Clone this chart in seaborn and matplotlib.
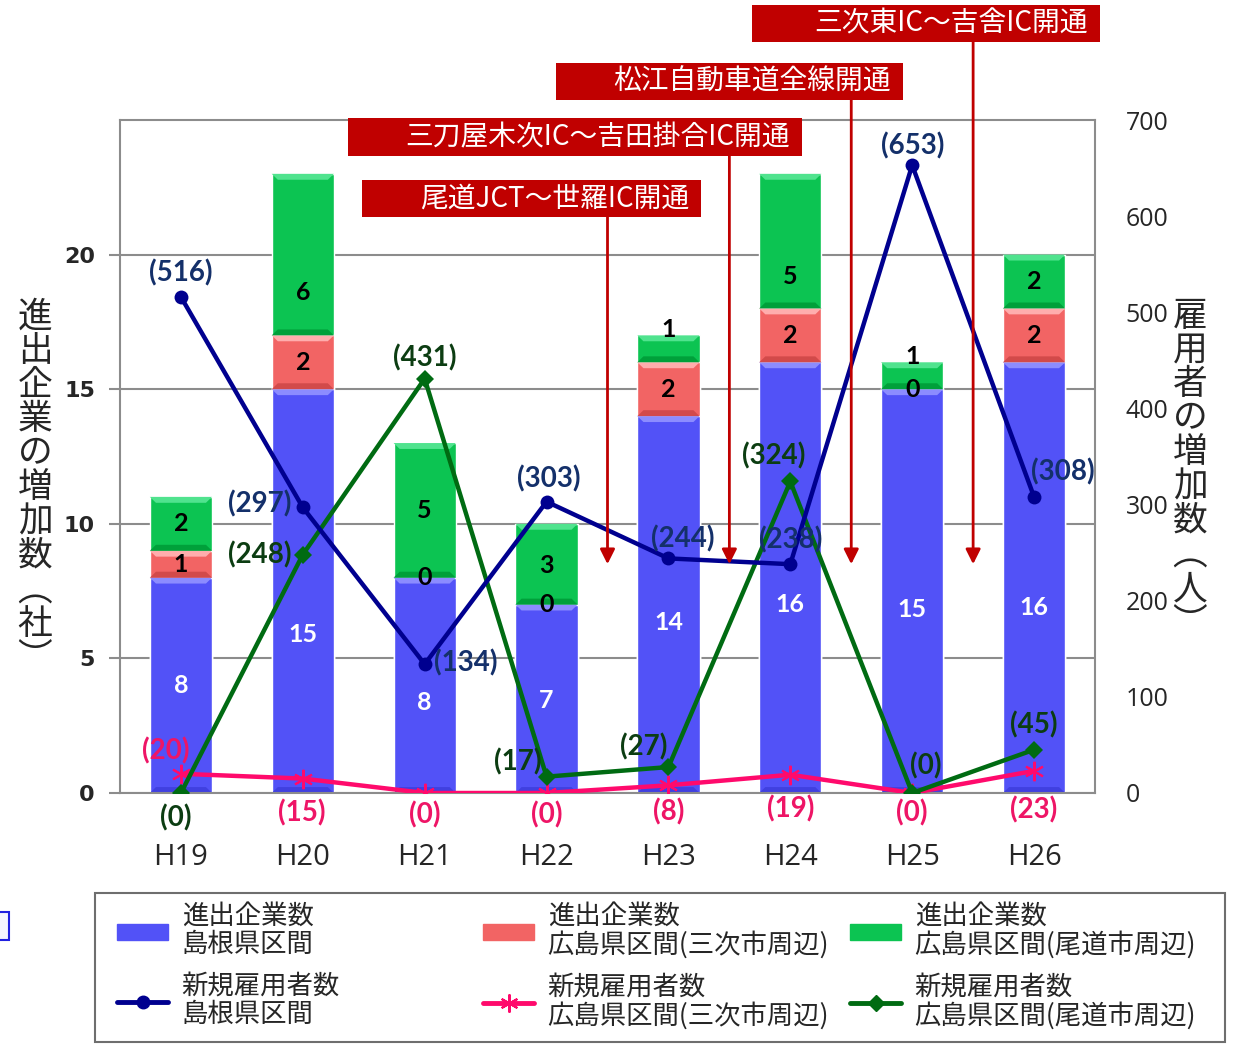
import numpy as np
import matplotlib.pyplot as plt
from matplotlib.patches import Rectangle, Patch, Polygon
from matplotlib.lines import Line2D
import seaborn as sns

# ---- data ----
years = ['H19', 'H20', 'H21', 'H22', 'H23', 'H24', 'H25', 'H26']
firms_shimane = [8, 15, 8, 7, 14, 16, 15, 16]
firms_miyoshi = [1, 2, 0, 0, 2, 2, 0, 2]
firms_onomichi = [2, 6, 5, 3, 1, 5, 1, 2]
jobs_shimane = [516, 297, 134, 303, 244, 238, 653, 308]
jobs_miyoshi = [20, 15, 0, 0, 8, 19, 0, 23]
jobs_onomichi = [0, 248, 431, 17, 27, 324, 0, 45]

openings = ['尾道JCT～世羅IC開通', '三刀屋木次IC～吉田掛合IC開通',
            '松江自動車道全線開通', '三次東IC～吉舎IC開通']
opened_after = ['H22', 'H23', 'H24', 'H25']

legend_bar_labels = ['進出企業数\n島根県区間', '進出企業数\n広島県区間(三次市周辺)',
                     '進出企業数\n広島県区間(尾道市周辺)']
legend_line_labels = ['新規雇用者数\n島根県区間', '新規雇用者数\n広島県区間(三次市周辺)',
                      '新規雇用者数\n広島県区間(尾道市周辺)']

# ---- styling ----
W, H = 1241, 1044
BLUE, RED, GREEN = '#5252f7', '#f26464', '#0cc452'
NAVY, PINK, DGREEN = '#00008f', '#ff0a6c', '#006b12'
NAVY_T, PINK_T, GREEN_T = '#14306a', '#ee1566', '#0c3d12'
GRAY = '#8c8c8c'
NUM = ['Lato', 'DejaVu Sans']
BAR_W = 0.51

sns.set_theme(style='white')
plt.rcParams['font.family'] = ['Noto Sans CJK JP', 'DejaVu Sans']

fig = plt.figure(figsize=(W / 100, H / 100), dpi=100)
ax = fig.add_axes([120 / W, (H - 793) / H, 975 / W, 673 / H])

b = np.array(firms_shimane)
r = np.array(firms_miyoshi)
g = np.array(firms_onomichi)

# stacked bars: draw totals first, then overlay lower parts
sns.barplot(x=years, y=b + r + g, color=GREEN, saturation=1, width=BAR_W, ax=ax)
sns.barplot(x=years, y=b + r, color=RED, saturation=1, width=BAR_W, ax=ax)
sns.barplot(x=years, y=b, color=BLUE, saturation=1, width=BAR_W, ax=ax)


def bevel(x, y0, y1, light, dark):
    # Excel-like bevel: lighter top edge, darker bottom edge
    hw, ix, iy = BAR_W / 2, 0.05, 0.22
    if y1 - y0 <= 0:
        return
    iy = min(iy, (y1 - y0) / 3)
    ax.add_patch(Polygon([(x - hw, y1), (x + hw, y1), (x + hw - ix, y1 - iy),
                          (x - hw + ix, y1 - iy)], closed=True, facecolor=light,
                         edgecolor='none', zorder=1.5))
    ax.add_patch(Polygon([(x - hw, y0), (x + hw, y0), (x + hw - ix, y0 + iy),
                          (x - hw + ix, y0 + iy)], closed=True, facecolor=dark,
                         edgecolor='none', zorder=1.5))


for i in range(len(years)):
    bevel(i, 0, b[i], '#8c8cff', '#4040e0')
    bevel(i, b[i], b[i] + r[i], '#ffadad', '#d24a4a')
    bevel(i, b[i] + r[i], b[i] + r[i] + g[i], '#50e38e', '#00a03a')

ax.set_ylim(0, 25)
ax.set_xlim(-0.5, len(years) - 0.5)
ax.set_yticks([0, 5, 10, 15, 20])
ax.set_axisbelow(True)
ax.yaxis.grid(True, color=GRAY, lw=1.5)
ax.set_xlabel('')
ax.set_ylabel('')
for s in ax.spines.values():
    s.set_color(GRAY)
    s.set_linewidth(1.5)
ax.tick_params(axis='y', length=8, width=1.5, color=GRAY, direction='out', pad=10,
               labelsize=16)
ax.tick_params(axis='x', length=0, pad=36, labelsize=21)
for t in ax.get_yticklabels():
    t.set_family(['DejaVu Sans'])
    t.set_fontweight('semibold')
for t in ax.get_xticklabels():
    t.set_family(['Open Sans', 'DejaVu Sans'])

# segment labels
blue_label_pos = [4, 5.9, 3.35, 3.45, 6.35, 7.0, 6.8, 6.9]
green_label_pos = [10, 18.6, 10.5, 8.45, 17.2, 19.2, 16.2, 19.0]
for i in range(len(years)):
    ax.text(i, blue_label_pos[i], str(b[i]), ha='center', va='center', color='white',
            fontsize=18, fontweight='bold', family=NUM, zorder=5)
    ax.text(i, b[i] + r[i] / 2, str(r[i]), ha='center', va='center', color='black',
            fontsize=18, fontweight='bold', family=NUM, zorder=5)
    ax.text(i, green_label_pos[i], str(g[i]), ha='center', va='center', color='black',
            fontsize=18, fontweight='bold', family=NUM, zorder=5)

# employment lines on the secondary axis
ax2 = ax.twinx()
pos = np.arange(len(years))
sns.lineplot(x=pos, y=jobs_miyoshi, ax=ax2, color=PINK, lw=3.2, marker=(6, 2, 0),
             markersize=14, markeredgewidth=1.5, markeredgecolor=PINK)
sns.lineplot(x=pos, y=jobs_onomichi, ax=ax2, color=DGREEN, lw=3.2, marker='D',
             markersize=9, markeredgewidth=0)
sns.lineplot(x=pos, y=jobs_shimane, ax=ax2, color=NAVY, lw=3.2, marker='o',
             markersize=10, markeredgewidth=0)
ax2.set_ylim(0, 700)
ax2.set_xlim(-0.5, len(years) - 0.5)
ax2.set_yticks(range(0, 701, 100))
ax2.tick_params(axis='y', length=0, pad=22, labelsize=18)
for t in ax2.get_yticklabels():
    t.set_family(['Open Sans', 'DejaVu Sans'])
ax2.grid(False)
for s in ax2.spines.values():
    s.set_visible(False)
ax2.set_ylabel('')

# value labels (offsets in pixels)
off_shimane = [(0, 24), (-43, 4), (41, 1), (2, 23), (14, 20), (0, 24), (0, 19), (29, 25)]
off_onomichi = [(-5, -25), (-43, 0), (0, 21), (-29, 15), (-25, 20), (-17, 26), (14, 27), (0, 25)]
off_miyoshi = [(-15, 23), (-1, -34), (0, -22), (0, -22), (0, -27), (0, -34), (0, -20), (0, -39)]
for vals, offs, col in [(jobs_shimane, off_shimane, NAVY_T),
                        (jobs_onomichi, off_onomichi, GREEN_T),
                        (jobs_miyoshi, off_miyoshi, PINK_T)]:
    for i, v in enumerate(vals):
        ax2.annotate(f'({v})', xy=(i, v), xytext=(offs[i][0] * 0.72, offs[i][1] * 0.72),
                     textcoords='offset points', ha='center', va='center', color=col,
                     fontsize=20, fontweight='bold', family=NUM, annotation_clip=False,
                     zorder=6)

# road opening call-outs
boxes = [(362, 180, 701, 217), (348, 118, 802, 156), (556, 63, 903, 100), (752, 5, 1100, 42)]
for name, after, (x0, y0, x1, y1) in zip(openings, opened_after, boxes):
    fig.add_artist(Rectangle((x0 / W, 1 - y1 / H), (x1 - x0) / W, (y1 - y0) / H,
                             transform=fig.transFigure, facecolor='#c00000',
                             edgecolor='none', zorder=10))
    fig.text((x1 - 12) / W, 1 - (y0 + y1) / 2 / H, name, ha='right', va='center',
             color='white', fontsize=20, zorder=11)
    xc = years.index(after) + 0.5
    ax2.annotate('', xy=(xc, 8.5 * 28), xycoords='data',
                 xytext=(xc, H - y1), textcoords=('data', 'figure pixels'),
                 arrowprops=dict(arrowstyle='-|>', color='#c00000', lw=2,
                                 mutation_scale=22, shrinkA=0, shrinkB=0),
                 annotation_clip=False, zorder=4)

# axis titles, stacked vertically
fig.text(35 / W, 1 - 488 / H, '\n'.join('進出企業の増加数') + '\n︵\n社\n︶',
         ha='center', va='center', fontsize=25, linespacing=0.97)
fig.text(1190 / W, 1 - 470 / H, '\n'.join('雇用者の増加数') + '\n︵\n人\n︶',
         ha='center', va='center', fontsize=25, linespacing=0.97)

# legend: outer frame and three columns
fig.add_artist(Rectangle((95 / W, 2 / H), 1130 / W, 149 / H, transform=fig.transFigure,
                         facecolor='white', edgecolor='#6e6e6e', lw=1.5, zorder=1))
bar_cols = [BLUE, RED, GREEN]
line_styles = [dict(color=NAVY, marker='o', ms=9),
               dict(color=PINK, marker=(6, 2, 0), ms=13, mew=1.5),
               dict(color=DGREEN, marker='D', ms=8)]
for k, x_left in enumerate([117, 483, 850]):
    hs = [Patch(facecolor=bar_cols[k], edgecolor=bar_cols[k]),
          Line2D([], [], lw=3.5, **line_styles[k])]
    leg = fig.legend(hs, [legend_bar_labels[k], legend_line_labels[k]], loc='upper left',
                     bbox_to_anchor=(x_left / W, 1 - 903 / H), bbox_transform=fig.transFigure,
                     frameon=False, borderpad=0, borderaxespad=0, handlelength=1.95,
                     handleheight=0.55, handletextpad=0.5, labelspacing=0.55, fontsize=19)
    leg.set_zorder(2)
    for t in leg.get_texts():
        t.set_linespacing(1.05)

# stray edge of a neighbouring item, cut off at the left border
fig.add_artist(Rectangle((-3 / W, 1 - 940 / H), 12 / W, 28 / H, transform=fig.transFigure,
                         facecolor='#f4f4ff', edgecolor='#2020e0', lw=1.5))

fig.savefig('out.png', dpi=100)
